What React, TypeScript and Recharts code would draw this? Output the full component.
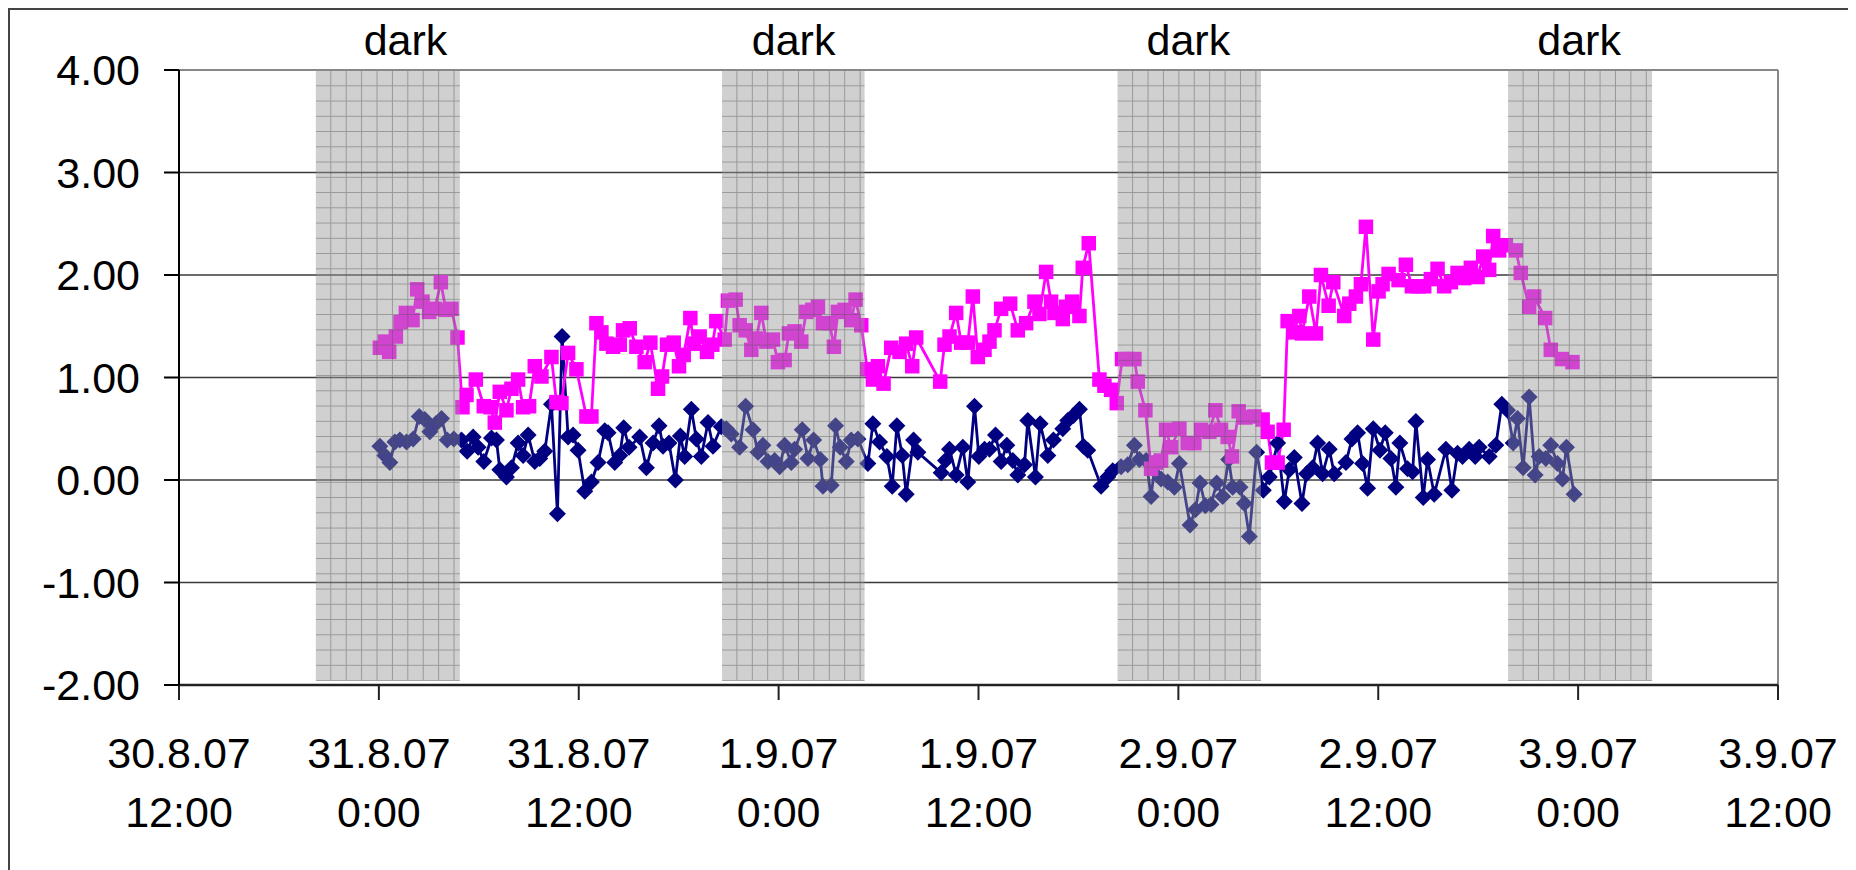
import React from "react";
import {
  LineChart,
  Line,
  XAxis,
  YAxis,
  CartesianGrid,
  ReferenceArea,
  ReferenceLine,
  ReferenceDot,
} from "recharts";

// x = hours since 30.8.07 12:00
const xTickHours = [0, 12, 24, 36, 48, 60, 72, 84, 96];
const xTickDates = ["30.8.07", "31.8.07", "31.8.07", "1.9.07", "1.9.07", "2.9.07", "2.9.07", "3.9.07", "3.9.07"];
const xTickTimes = ["12:00", "0:00", "12:00", "0:00", "12:00", "0:00", "12:00", "0:00", "12:00"];
const yTicks = [-2, -1, 0, 1, 2, 3, 4];

// dark periods
const darkStart = [8.22, 32.6, 56.36, 79.8];
const darkEnd = [16.86, 41.16, 64.96, 88.44];
const darkLabelAt = [13.6, 36.9, 60.6, 84.06];

// magenta series [hour, value]
const pinkSeries: [number, number][] = [
  [12.06, 1.29], [12.36, 1.35], [12.62, 1.25], [13.02, 1.4], [13.3, 1.54], [13.62, 1.63], [14.02, 1.56], [14.3, 1.86],
  [14.62, 1.74], [15.02, 1.64], [15.36, 1.67], [15.72, 1.93], [16.02, 1.66], [16.36, 1.67], [16.72, 1.39], [17.02, 0.71],
  [17.26, 0.83], [17.82, 0.98], [18.3, 0.72], [18.7, 0.71], [18.96, 0.56], [19.26, 0.86], [19.66, 0.68], [19.96, 0.89],
  [20.36, 0.98], [20.66, 0.71], [21.02, 0.72], [21.36, 1.11], [21.76, 1.01], [22.36, 1.2], [22.66, 0.76], [22.96, 0.75],
  [23.36, 1.24], [23.86, 1.08], [24.46, 0.62], [24.76, 0.62], [25.06, 1.53], [25.36, 1.44], [25.66, 1.33], [26.06, 1.3],
  [26.46, 1.32], [26.66, 1.46], [27.06, 1.48], [27.46, 1.3],
  [27.96, 1.15], [28.3, 1.34], [28.76, 0.89], [29.0, 1.01], [29.3, 1.32], [29.7, 1.34], [30.02, 1.11], [30.3, 1.22],
  [30.7, 1.58], [30.9, 1.33], [31.26, 1.4], [31.7, 1.25], [32.02, 1.32], [32.26, 1.55], [32.76, 1.37], [32.96, 1.75],
  [33.42, 1.76], [33.66, 1.51], [34.02, 1.46], [34.36, 1.27], [34.66, 1.38], [34.96, 1.63], [35.26, 1.35], [35.66, 1.37],
  [35.96, 1.15], [36.36, 1.17], [36.62, 1.43], [36.96, 1.45], [37.36, 1.35], [37.66, 1.64], [38.02, 1.66], [38.36, 1.69],
  [38.66, 1.53], [39.06, 1.53], [39.32, 1.3], [39.56, 1.64], [39.96, 1.66], [40.36, 1.56], [40.62, 1.76], [40.96, 1.51],
  [41.32, 1.08], [41.66, 0.98], [41.96, 1.11], [42.3, 0.94], [42.76, 1.29], [43.26, 1.25], [43.66, 1.33],
  [44.02, 1.11], [44.26, 1.39], [45.7, 0.96], [45.96, 1.32], [46.26, 1.4], [46.66, 1.63], [46.96, 1.34], [47.36, 1.34],
  [47.66, 1.79], [47.96, 1.2], [48.36, 1.27], [48.66, 1.35], [48.96, 1.46], [49.36, 1.67], [49.9, 1.72], [50.36, 1.46],
  [50.86, 1.53], [51.36, 1.74], [51.66, 1.62], [52.06, 2.03], [52.36, 1.74], [52.56, 1.63], [53.06, 1.57], [53.26, 1.69],
  [53.62, 1.74], [54.06, 1.6], [54.26, 2.07], [54.62, 2.31], [55.26, 0.98], [55.56, 0.92], [55.96, 0.88], [56.3, 0.75],
  [56.62, 1.18], [56.96, 1.18], [57.36, 1.18], [57.56, 0.96], [58.02, 0.68], [58.36, 0.11], [58.66, 0.17], [58.96, 0.19],
  [59.26, 0.49], [59.56, 0.32], [60.06, 0.5],
  [60.56, 0.36], [60.96, 0.36], [61.36, 0.49], [61.86, 0.47], [62.22, 0.68], [62.56, 0.49], [62.96, 0.42], [63.22, 0.23],
  [63.62, 0.67], [64.02, 0.61], [64.56, 0.62], [65.06, 0.59], [65.36, 0.47], [65.62, 0.17], [65.96, 0.17], [66.32, 0.49],
  [66.56, 1.55], [66.9, 1.44], [67.26, 1.6], [67.42, 1.43], [67.86, 1.79], [68.26, 1.43], [68.56, 2.0], [69.02, 1.7],
  [69.3, 1.93], [69.96, 1.6], [70.26, 1.72], [70.66, 1.79], [70.96, 1.91], [71.26, 2.47], [71.7, 1.37], [72.02, 1.84],
  [72.26, 1.91], [72.62, 2.01], [73.22, 1.95], [73.66, 2.1], [74.02, 1.89], [74.42, 1.89], [74.76, 1.89], [75.16, 1.96],
  [75.56, 2.06],
  [75.96, 1.89], [76.36, 1.93], [76.76, 2.02], [77.16, 1.97], [77.56, 2.07], [77.96, 1.98], [78.3, 2.18], [78.66, 2.05],
  [78.9, 2.38], [79.26, 2.24], [79.66, 2.29], [80.26, 2.24], [80.56, 2.02], [81.06, 1.69], [81.36, 1.79], [82.02, 1.58],
  [82.36, 1.27], [83.02, 1.18], [83.66, 1.15],
];

// navy series [hour, value]
const blueSeries: [number, number][] = [
  [12.06, 0.33], [12.36, 0.24], [12.66, 0.17], [12.96, 0.37], [13.26, 0.39], [13.66, 0.37], [14.06, 0.4], [14.42, 0.62],
  [14.76, 0.59], [15.06, 0.47], [15.42, 0.55], [15.76, 0.6], [16.1, 0.39], [16.5, 0.4], [16.96, 0.39], [17.3, 0.28],
  [17.66, 0.42], [17.96, 0.32], [18.3, 0.18], [18.76, 0.41], [19.06, 0.39], [19.26, 0.1], [19.66, 0.03], [19.96, 0.12],
  [20.36, 0.36], [20.66, 0.24], [20.96, 0.44], [21.36, 0.18], [21.66, 0.21], [21.96, 0.28], [22.36, 0.74], [22.72, -0.33],
  [23.0, 1.4], [23.36, 0.42], [23.66, 0.44], [23.96, 0.29], [24.36, -0.11], [24.76, -0.02], [25.16, 0.17], [25.56, 0.48],
  [25.76, 0.46], [26.16, 0.17], [26.46, 0.24], [26.7, 0.51], [27.02, 0.32],
  [27.66, 0.42], [28.06, 0.12], [28.46, 0.36], [28.82, 0.53], [29.06, 0.33], [29.42, 0.36], [29.8, 0.0], [30.1, 0.43],
  [30.36, 0.23], [30.76, 0.69], [31.06, 0.4], [31.36, 0.23], [31.76, 0.56], [32.06, 0.33], [32.56, 0.52], [32.86, 0.5],
  [33.16, 0.45], [33.66, 0.32], [34.02, 0.72], [34.46, 0.49], [34.76, 0.27], [35.06, 0.34], [35.36, 0.18], [35.76, 0.19],
  [36.06, 0.13], [36.36, 0.34], [36.76, 0.17], [36.96, 0.3], [37.42, 0.49], [37.76, 0.21], [38.1, 0.39], [38.5, 0.2],
  [38.66, -0.06], [39.16, -0.05], [39.42, 0.53], [39.7, 0.32], [40.06, 0.18], [40.36, 0.39], [40.76, 0.4], [41.36, 0.16],
  [41.66, 0.55], [42.06, 0.37], [42.5, 0.23], [42.82, -0.06], [43.1, 0.53], [43.42, 0.24], [43.66, -0.14],
  [44.1, 0.39], [44.36, 0.27], [45.76, 0.07], [46.02, 0.19], [46.26, 0.3], [46.66, 0.05], [47.06, 0.32], [47.36, -0.02],
  [47.76, 0.72], [48.02, 0.23], [48.36, 0.3], [48.66, 0.3], [49.02, 0.44], [49.36, 0.18], [49.7, 0.34], [50.06, 0.19],
  [50.36, 0.05], [50.76, 0.15], [50.96, 0.58], [51.42, 0.03], [51.7, 0.55], [52.16, 0.24], [52.5, 0.39], [53.06, 0.5],
  [53.36, 0.58], [53.7, 0.63], [54.06, 0.69], [54.3, 0.33], [54.56, 0.29], [55.36, -0.06], [55.76, 0.03], [56.06, 0.09],
  [56.56, 0.13], [56.96, 0.15], [57.36, 0.34], [57.66, 0.2], [58.06, 0.19], [58.36, -0.16], [58.62, 0.18], [58.96, 0.01],
  [59.36, -0.02], [59.76, -0.07], [60.06, 0.16],
  [60.7, -0.44], [61.02, -0.29], [61.3, -0.03], [61.62, -0.25], [61.96, -0.24], [62.3, -0.03], [62.66, -0.16], [63.02, 0.2],
  [63.26, -0.07], [63.7, -0.07], [63.96, -0.23], [64.26, -0.55], [64.7, 0.27], [65.1, -0.1], [65.46, 0.03], [65.96, 0.36],
  [66.36, -0.21], [66.66, 0.1], [66.96, 0.22], [67.42, -0.23], [67.7, 0.06], [68.06, 0.12], [68.36, 0.36], [68.66, 0.06],
  [69.06, 0.3], [69.36, 0.06], [70.06, 0.17], [70.42, 0.4], [70.76, 0.46], [71.06, 0.16], [71.36, -0.08], [71.7, 0.5],
  [72.1, 0.29], [72.42, 0.46], [72.76, 0.21], [73.06, -0.07], [73.3, 0.36], [73.76, 0.11], [74.06, 0.08], [74.26, 0.57],
  [74.7, -0.17], [74.96, 0.2], [75.36, -0.14],
  [76.06, 0.3], [76.42, -0.1], [76.76, 0.26], [77.06, 0.23], [77.46, 0.3], [77.82, 0.23], [78.06, 0.32], [78.66, 0.23],
  [79.06, 0.34], [79.42, 0.74], [79.76, 0.68], [80.1, 0.36], [80.36, 0.6], [80.7, 0.12], [81.06, 0.81], [81.42, 0.05],
  [81.66, 0.23], [82.06, 0.21], [82.36, 0.34], [82.76, 0.16], [83.06, 0.01], [83.3, 0.32], [83.76, -0.14],
];

const FONT = "'Liberation Sans', Arial, Helvetica, sans-serif";
const FONT_SIZE = 43;
const PINK = "#ff00ff";
const NAVY = "#000080";

const pinkData = pinkSeries.map(([h, v]) => ({ h, v }));
const blueData = blueSeries.map(([h, v]) => ({ h, v }));

function XTick({ x, y, payload }: any) {
  const i = xTickHours.indexOf(payload.value);
  return (
    <text x={x} y={y} textAnchor="middle" fontSize={FONT_SIZE} fontFamily={FONT} fill="#000">
      <tspan x={x} dy={68}>{xTickDates[i]}</tspan>
      <tspan x={x} dy={59}>{xTickTimes[i]}</tspan>
    </text>
  );
}

function DiamondDot(props: any) {
  const { cx, cy, index } = props;
  if (cx == null || cy == null) return <g key={`d-${index}`} />;
  const r = 8.5;
  return (
    <path
      key={`d-${index}`}
      d={`M${cx},${cy - r}L${cx + r},${cy}L${cx},${cy + r}L${cx - r},${cy}Z`}
      fill={NAVY}
    />
  );
}

function SquareDot(props: any) {
  const { cx, cy, index } = props;
  if (cx == null || cy == null) return <g key={`s-${index}`} />;
  const s = 14.5;
  return <rect key={`s-${index}`} x={cx - s / 2} y={cy - s / 2} width={s} height={s} fill={PINK} />;
}

// translucent grey band with a fine grid, drawn over the series
function DarkBand(props: any) {
  const { x, y, width, height } = props;
  const id = `dark-grid-${Math.round(x)}`;
  const gw = 15.4;
  const gh = 15.25;
  return (
    <g>
      <defs>
        <pattern id={id} x={x} y={y} width={gw} height={gh} patternUnits="userSpaceOnUse">
          <rect x={0} y={0} width={gw} height={gh} fill="#969696" fillOpacity={0.45} />
          <path d={`M${gw - 0.5},0V${gh}M0,${gh - 0.5}H${gw}`} stroke="#555" strokeOpacity={0.45} strokeWidth={1} fill="none" />
        </pattern>
      </defs>
      <rect x={x} y={y} width={width} height={height} fill={`url(#${id})`} />
    </g>
  );
}

export default function App() {
  return (
    <div
      style={{
        width: 1848,
        height: 862,
        boxSizing: "border-box",
        borderLeft: "2px solid #444",
        borderTop: "2px solid #444",
        background: "#fff",
      }}
    >
      <LineChart width={1846} height={860} margin={{ top: 60, right: 78, bottom: 85, left: 19 }}>
        <CartesianGrid vertical={false} stroke="#3a3a3a" strokeWidth={1.3} />
        <XAxis
          type="number"
          dataKey="h"
          domain={[0, 96]}
          ticks={xTickHours}
          interval={0}
          height={100}
          tickSize={15}
          tickMargin={0}
          tick={<XTick />}
          axisLine={{ stroke: "#222", strokeWidth: 2.5 }}
          tickLine={{ stroke: "#222", strokeWidth: 2 }}
          allowDataOverflow
        />
        <YAxis
          type="number"
          domain={[-2, 4]}
          ticks={yTicks}
          interval={0}
          width={150}
          tickSize={15}
          tickMargin={24}
          tickFormatter={(v: number) => v.toFixed(2)}
          tick={{ fontSize: FONT_SIZE, fill: "#000", fontFamily: FONT }}
          axisLine={{ stroke: "#000", strokeWidth: 2 }}
          tickLine={{ stroke: "#000", strokeWidth: 2 }}
          allowDataOverflow
        />
        <ReferenceLine y={4} stroke="#888" strokeWidth={2} />
        <ReferenceLine x={96} stroke="#888" strokeWidth={2} />
        <Line
          data={blueData}
          dataKey="v"
          stroke={NAVY}
          strokeWidth={2.8}
          dot={DiamondDot}
          activeDot={false}
          isAnimationActive={false}
        />
        <Line
          data={pinkData}
          dataKey="v"
          stroke={PINK}
          strokeWidth={2.8}
          dot={SquareDot}
          activeDot={false}
          isAnimationActive={false}
        />
        {darkStart.map((s, i) => (
          <ReferenceArea
            key={`band-${i}`}
            x1={s}
            x2={darkEnd[i]}
            y1={-1.96}
            y2={3.99}
            shape={DarkBand}
            zIndex={1000}
          />
        ))}
        {darkLabelAt.map((h, i) => (
          <ReferenceDot
            key={`lbl-${i}`}
            x={h}
            y={4}
            r={0}
            fill="none"
            stroke="none"
            ifOverflow="visible"
            label={{ value: "dark", position: "top", offset: 15, fontSize: FONT_SIZE, fill: "#000", fontFamily: FONT }}
          />
        ))}
      </LineChart>
    </div>
  );
}
